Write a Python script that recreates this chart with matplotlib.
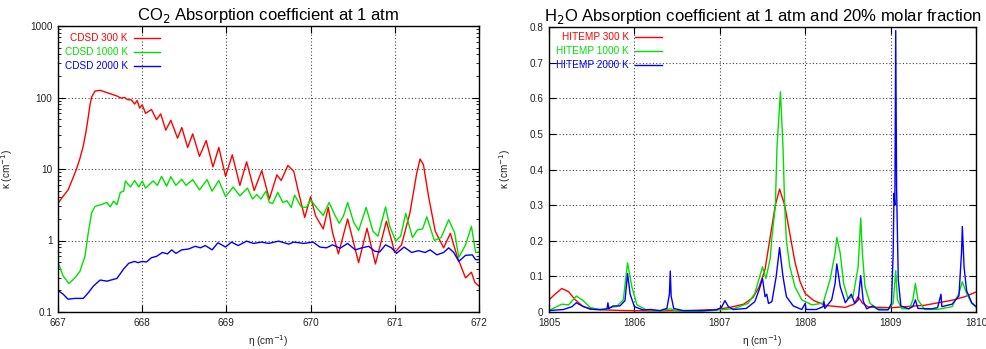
import matplotlib
matplotlib.use("Agg")
import matplotlib.pyplot as plt
from matplotlib.lines import Line2D
from matplotlib.ticker import LogLocator, NullFormatter, FixedLocator

plt.rcParams['font.family'] = ['Liberation Sans', 'DejaVu Sans']

# ---------------- CO2 data (wavenumber cm-1, kappa cm-1) ----------------
co2_300_x = [667.00, 667.05, 667.12, 667.17, 667.22, 667.26, 667.30, 667.33, 667.36, 667.38,
             667.40, 667.44, 667.50, 667.60, 667.70, 667.75, 667.79, 667.83, 667.87, 667.91,
             667.94, 667.97, 668.00, 668.04, 668.11, 668.17, 668.22, 668.28, 668.34, 668.42,
             668.47, 668.54, 668.60, 668.68, 668.76, 668.84, 668.91, 668.99, 669.07, 669.16,
             669.24, 669.33, 669.42, 669.51, 669.60, 669.65, 669.73, 669.80, 669.85, 669.93,
             670.00, 670.06, 670.15, 670.21, 670.26, 670.33, 670.44, 670.57, 670.67, 670.77,
             670.90, 671.00, 671.08, 671.18, 671.26, 671.30, 671.34, 671.40, 671.48, 671.58,
             671.66, 671.74, 671.84, 671.91, 671.95, 672.00]
co2_300_k = [3.3, 4.0, 5.1, 7.1, 10, 14, 21, 32, 54, 79,
             102, 123, 126, 115, 105, 98, 100, 93, 93, 81,
             91, 71, 79, 60, 68, 49, 59, 35, 48, 27,
             38, 20, 31, 15, 25, 10.7, 20, 7.9, 15.8, 5.9,
             12.6, 5.0, 9.5, 3.8, 8.3, 6.9, 11.2, 9.3, 5.1, 2.1,
             4.1, 2.2, 1.45, 2.9, 1.3, 0.65, 2.0, 0.49, 1.48, 0.47,
             1.86, 0.68, 0.87, 2.45, 8.7, 13.8, 11.5, 4.2, 1.35, 0.79,
             1.26, 0.60, 0.30, 0.36, 0.26, 0.23]

co2_1000_x = [667.00, 667.06, 667.13, 667.20, 667.26, 667.32, 667.36, 667.40, 667.44, 667.52,
              667.58, 667.62, 667.66, 667.70, 667.74, 667.78, 667.80, 667.86, 667.91, 667.96,
              668.00, 668.04, 668.13, 668.18, 668.23, 668.29, 668.34, 668.40, 668.47, 668.52,
              668.60, 668.68, 668.77, 668.83, 668.91, 668.99, 669.08, 669.16, 669.25, 669.31,
              669.36, 669.41, 669.47, 669.51, 669.55, 669.61, 669.67, 669.72, 669.77, 669.81,
              669.89, 669.95, 670.00, 670.07, 670.15, 670.22, 670.29, 670.34, 670.39, 670.44,
              670.51, 670.57, 670.66, 670.74, 670.80, 670.89, 670.94, 671.01, 671.07, 671.13,
              671.21, 671.27, 671.33, 671.38, 671.47, 671.55, 671.64, 671.71, 671.76, 671.84,
              671.91, 671.96, 672.00]
co2_1000_k = [0.50, 0.32, 0.25, 0.30, 0.37, 0.60, 1.29, 2.45, 3.0, 3.2,
              3.4, 2.95, 3.55, 3.16, 4.7, 4.9, 6.8, 5.6, 6.9, 5.6,
              6.8, 5.4, 6.8, 5.9, 7.9, 5.75, 7.8, 5.9, 7.2, 5.9,
              7.1, 5.1, 7.1, 4.9, 6.9, 4.1, 5.6, 4.2, 5.4, 3.8,
              4.4, 3.8, 4.9, 3.4, 3.3, 4.7, 3.4, 3.6, 2.9, 4.3,
              2.95, 2.9, 3.7, 2.9, 2.24, 3.4, 2.24, 1.74, 2.2, 3.4,
              1.82, 1.38, 2.9, 1.35, 1.15, 2.95, 1.58, 0.98, 1.15, 2.4,
              1.1, 1.41, 1.45, 2.14, 1.0, 1.1, 1.95, 1.29, 0.58, 0.87,
              1.58, 0.68, 0.69]

co2_2000_x = [667.00, 667.06, 667.12, 667.20, 667.30, 667.36, 667.42, 667.50, 667.58, 667.70,
              667.78, 667.84, 667.91, 667.95, 668.00, 668.05, 668.11, 668.17, 668.24, 668.30,
              668.35, 668.40, 668.47, 668.55, 668.63, 668.69, 668.75, 668.83, 668.90, 668.99,
              669.06, 669.14, 669.24, 669.32, 669.42, 669.50, 669.62, 669.74, 669.80, 669.92,
              670.03, 670.11, 670.19, 670.26, 670.35, 670.44, 670.53, 670.61, 670.69, 670.76,
              670.82, 670.89, 670.96, 671.02, 671.11, 671.20, 671.28, 671.36, 671.42, 671.50,
              671.58, 671.64, 671.70, 671.76, 671.84, 671.92, 671.96, 672.00]
co2_2000_k = [0.20, 0.178, 0.151, 0.155, 0.155, 0.186, 0.23, 0.28, 0.27, 0.295,
              0.40, 0.48, 0.51, 0.49, 0.51, 0.50, 0.575, 0.60, 0.68, 0.65,
              0.74, 0.66, 0.74, 0.76, 0.83, 0.79, 0.85, 0.74, 0.93, 0.81,
              0.95, 0.85, 0.98, 0.91, 0.95, 0.91, 0.98, 0.89, 0.95, 0.91,
              0.95, 0.81, 0.79, 0.87, 0.78, 0.91, 0.74, 0.79, 0.83, 0.71,
              0.69, 0.87, 0.79, 0.66, 0.81, 0.68, 0.72, 0.68, 0.74, 0.63,
              0.68, 0.79, 0.68, 0.51, 0.62, 0.63, 0.54, 0.54]

# ---------------- H2O data ----------------
h2o_300_x = [1805.00, 1805.07, 1805.15, 1805.23, 1805.30, 1805.40, 1805.52, 1805.87, 1806.26, 1806.65,
             1806.96, 1807.12, 1807.28, 1807.39, 1807.46, 1807.53, 1807.59, 1807.65, 1807.70, 1807.76,
             1807.82, 1807.88, 1807.94, 1808.00, 1808.10, 1808.25, 1808.47, 1808.57, 1808.62, 1808.67,
             1808.74, 1809.01, 1809.40, 1809.72, 1809.87, 1810.00]
h2o_300_k = [0.034, 0.050, 0.066, 0.057, 0.036, 0.015, 0.007, 0.004, 0.003, 0.004,
             0.007, 0.013, 0.022, 0.041, 0.070, 0.120, 0.210, 0.300, 0.345, 0.300,
             0.220, 0.140, 0.085, 0.052, 0.032, 0.018, 0.013, 0.022, 0.043, 0.025,
             0.014, 0.012, 0.019, 0.033, 0.043, 0.056]

h2o_1000_x = [1805.00, 1805.09, 1805.15, 1805.23, 1805.32, 1805.40, 1805.48, 1805.60, 1805.68, 1805.71,
              1805.79, 1805.87, 1805.92, 1805.97, 1806.03, 1806.14, 1806.30, 1806.42, 1806.50, 1806.73,
              1807.00, 1807.16, 1807.33, 1807.41, 1807.50, 1807.54, 1807.59, 1807.61, 1807.65, 1807.67,
              1807.71, 1807.74, 1807.76, 1807.78, 1807.82, 1807.88, 1807.96, 1808.08, 1808.21, 1808.29,
              1808.35, 1808.37, 1808.41, 1808.45, 1808.50, 1808.56, 1808.62, 1808.65, 1808.67, 1808.70,
              1808.76, 1808.85, 1808.97, 1809.03, 1809.06, 1809.08, 1809.13, 1809.22, 1809.26, 1809.29,
              1809.32, 1809.40, 1809.55, 1809.72, 1809.80, 1809.84, 1809.89, 1809.95, 1810.00]
h2o_1000_k = [0.004, 0.015, 0.022, 0.020, 0.045, 0.032, 0.013, 0.006, 0.008, 0.013,
              0.015, 0.034, 0.138, 0.071, 0.020, 0.006, 0.003, 0.009, 0.003, 0.001,
              0.006, 0.009, 0.024, 0.052, 0.127, 0.094, 0.150, 0.210, 0.296, 0.464,
              0.618, 0.464, 0.296, 0.200, 0.127, 0.071, 0.034, 0.020, 0.025, 0.090,
              0.165, 0.209, 0.165, 0.080, 0.038, 0.043, 0.127, 0.264, 0.165, 0.071,
              0.024, 0.009, 0.007, 0.024, 0.116, 0.034, 0.009, 0.009, 0.034, 0.080,
              0.034, 0.007, 0.007, 0.015, 0.052, 0.085, 0.052, 0.024, 0.015]

h2o_2000_x = [1805.00, 1805.17, 1805.27, 1805.32, 1805.38, 1805.48, 1805.60, 1805.68, 1805.69, 1805.70,
              1805.75, 1805.83, 1805.89, 1805.92, 1805.95, 1806.00, 1806.10, 1806.19, 1806.30, 1806.38,
              1806.41, 1806.42, 1806.43, 1806.46, 1806.57, 1806.81, 1806.96, 1807.02, 1807.06, 1807.10,
              1807.16, 1807.31, 1807.41, 1807.46, 1807.50, 1807.53, 1807.55, 1807.57, 1807.61, 1807.66,
              1807.70, 1807.74, 1807.78, 1807.86, 1807.96, 1808.00, 1808.01, 1808.13, 1808.21, 1808.22,
              1808.23, 1808.31, 1808.35, 1808.37, 1808.41, 1808.47, 1808.54, 1808.58, 1808.62, 1808.65,
              1808.68, 1808.72, 1808.79, 1808.86, 1808.97, 1809.01, 1809.03, 1809.04, 1809.05, 1809.06,
              1809.07, 1809.09, 1809.12, 1809.21, 1809.26, 1809.29, 1809.32, 1809.48, 1809.55, 1809.59,
              1809.60, 1809.72, 1809.80, 1809.83, 1809.84, 1809.86, 1809.89, 1809.95, 1810.00]
h2o_2000_k = [0.004, 0.007, 0.015, 0.026, 0.018, 0.008, 0.007, 0.009, 0.026, 0.009,
              0.017, 0.017, 0.032, 0.108, 0.050, 0.015, 0.006, 0.007, 0.004, 0.010,
              0.050, 0.115, 0.045, 0.010, 0.004, 0.004, 0.006, 0.013, 0.032, 0.015,
              0.007, 0.010, 0.029, 0.062, 0.094, 0.043, 0.050, 0.024, 0.029, 0.099,
              0.181, 0.099, 0.043, 0.017, 0.007, 0.024, 0.007, 0.007, 0.015, 0.029,
              0.010, 0.034, 0.080, 0.135, 0.071, 0.026, 0.050, 0.024, 0.034, 0.102,
              0.030, 0.009, 0.017, 0.006, 0.006, 0.024, 0.165, 0.333, 0.300, 0.790,
              0.350, 0.090, 0.017, 0.009, 0.015, 0.034, 0.010, 0.009, 0.012, 0.050,
              0.015, 0.022, 0.045, 0.165, 0.240, 0.127, 0.060, 0.026, 0.015]

co2_labels = ["CDSD 300 K", "CDSD 1000 K", "CDSD 2000 K"]
h2o_labels = ["HITEMP 300 K", "HITEMP 1000 K", "HITEMP 2000 K"]
colors = ["#ff0000", "#00e000", "#0000ff"]

co2_xticks = [667, 668, 669, 670, 671, 672]
co2_yticks = [0.1, 1, 10, 100, 1000]
co2_ytick_labels = ["0.1", "1", "10", "100", "1000"]
h2o_xticks = [1805, 1806, 1807, 1808, 1809, 1810]
h2o_yticks = [0, 0.1, 0.2, 0.3, 0.4, 0.5, 0.6, 0.7, 0.8]
h2o_ytick_labels = ["0", "0.1", "0.2", "0.3", "0.4", "0.5", "0.6", "0.7", "0.8"]

W, H = 987, 349
fig = plt.figure(figsize=(W / 100, H / 100), dpi=100)
ax1 = fig.add_axes([58 / W, 1 - 312 / H, 421 / W, 286 / H])
ax2 = fig.add_axes([549 / W, 1 - 312 / H, 427 / W, 285 / H])

tick_color = "#222222"
fs_tick = 7.2

def style(ax):
    ax.tick_params(which='both', direction='in', top=True, right=True,
                   labelsize=fs_tick, labelcolor=tick_color, color='black', pad=4)
    ax.tick_params(which='major', length=5, width=0.8)
    ax.tick_params(which='minor', length=2.5, width=0.6)
    ax.grid(True, which='major', linestyle=(0, (1, 2)), color='#444444', linewidth=0.8)
    for s in ax.spines.values():
        s.set_linewidth(1.0)
        s.set_color('black')

# Left: CO2
for xs, ks, c in zip([co2_300_x, co2_1000_x, co2_2000_x],
                     [co2_300_k, co2_1000_k, co2_2000_k], colors):
    ax1.plot(xs, ks, color=c, lw=1.0)
ax1.set_yscale('log')
ax1.set_xlim(667, 672)
ax1.set_ylim(0.1, 1000)
ax1.set_xticks(co2_xticks)
ax1.set_xticklabels([str(t) for t in co2_xticks])
ax1.yaxis.set_major_locator(FixedLocator(co2_yticks))
ax1.set_yticklabels(co2_ytick_labels)
ax1.yaxis.set_minor_locator(LogLocator(base=10, subs=range(2, 10), numticks=20))
ax1.yaxis.set_minor_formatter(NullFormatter())
style(ax1)
ax1.set_title("CO$_2$ Absorption coefficient at 1 atm", fontsize=12, pad=4)
ax1.set_xlabel("η (cm$^{-1}$)", fontsize=fs_tick, color=tick_color, labelpad=4)
ax1.set_ylabel("κ (cm$^{-1}$)", fontsize=fs_tick, color=tick_color)
ax1.yaxis.set_label_coords(-0.102, 0.5)

# Right: H2O
for xs, ks, c in zip([h2o_300_x, h2o_1000_x, h2o_2000_x],
                     [h2o_300_k, h2o_1000_k, h2o_2000_k], colors):
    ax2.plot(xs, ks, color=c, lw=1.0)
ax2.set_xlim(1805, 1810)
ax2.set_ylim(0, 0.8)
ax2.set_xticks(h2o_xticks)
ax2.set_xticklabels([str(t) for t in h2o_xticks])
ax2.set_yticks(h2o_yticks)
ax2.set_yticklabels(h2o_ytick_labels)
style(ax2)
ax2.set_title("H$_2$O Absorption coefficient at 1 atm and 20% molar fraction", fontsize=12, pad=4)
ax2.set_xlabel("η (cm$^{-1}$)", fontsize=fs_tick, color=tick_color, labelpad=4)
ax2.set_ylabel("κ (cm$^{-1}$)", fontsize=fs_tick, color=tick_color)
ax2.yaxis.set_label_coords(-0.084, 0.5)

# gnuplot-style keys
def key(ax, labels, tx, lx0, lx1, ys):
    for lab, c, y in zip(labels, colors, ys):
        ax.text(tx, y, lab, color=c, ha='right', va='center', fontsize=fs_tick,
                transform=ax.transAxes)
        ax.add_line(Line2D([lx0, lx1], [y, y], color=c, lw=1.0,
                           transform=ax.transAxes))

key(ax1, co2_labels, 0.166, 0.180, 0.242, [0.958, 0.909, 0.860])
key(ax2, h2o_labels, 0.187, 0.201, 0.265, [0.965, 0.916, 0.867])

fig.savefig("out.png", dpi=100)
